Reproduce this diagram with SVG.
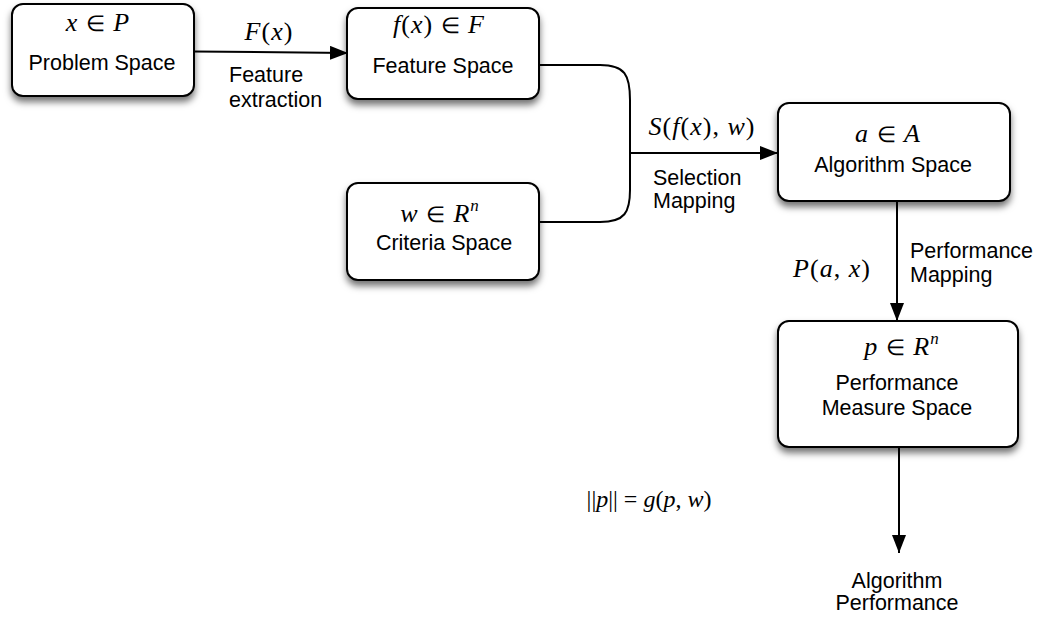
<svg xmlns="http://www.w3.org/2000/svg" width="1041" height="619" viewBox="0 0 1041 619">
<style>
.box{fill:#fff;stroke:#000;stroke-width:2;filter:url(#sh)}
.lbl{font-family:"Liberation Sans",Arial,sans-serif;font-size:21.5px;fill:#000}
.c{text-anchor:middle}
.m{font-family:"Liberation Serif","Times New Roman",serif;font-size:26px;fill:#000;text-anchor:middle;letter-spacing:1px}
.i{font-style:italic}
.s{font-size:22px}
.sup{font-size:17px;font-style:italic}
.conn{fill:none;stroke:#000;stroke-width:2}
</style>
<defs>
<filter id="sh" x="-20%" y="-20%" width="140%" height="150%">
<feDropShadow dx="0" dy="5" stdDeviation="3.5" flood-color="#000" flood-opacity="0.55"/>
</filter>
<marker id="ah" viewBox="0 0 18 14" refX="18" refY="7" markerWidth="18" markerHeight="14" markerUnits="userSpaceOnUse" orient="auto">
<path d="M0,0 L18,7 L0,14 Z" fill="#000"/>
</marker>
</defs>

<g id="connectors">
<path class="conn" d="M194,51.5 L348,53" marker-end="url(#ah)"/>
<path class="conn" d="M539,65 L600,65 C625,65 630,75 630,100 L630,190 C630,212 625,222 600,222 L539,222"/>
<path class="conn" d="M630,153 L778,153" marker-end="url(#ah)"/>
<path class="conn" d="M897,201 L897,321" marker-end="url(#ah)"/>
<path class="conn" d="M899,447 L899,553" marker-end="url(#ah)"/>
</g>

<g id="problem-space">
<rect class="box" x="12" y="4" width="182" height="92" rx="11"/>
<text class="m" x="98" y="31"><tspan class="i">x</tspan> <tspan class="s">∈</tspan> <tspan class="i">P</tspan></text>
<text class="lbl c" x="102" y="70">Problem Space</text>
</g>

<g id="feature-label">
<text class="m" x="269" y="40"><tspan class="i">F</tspan>(<tspan class="i">x</tspan>)</text>
<text class="lbl" x="229" y="82">Feature</text>
<text class="lbl" x="229" y="107">extraction</text>
</g>

<g id="feature-space">
<rect class="box" x="347" y="8" width="192" height="91" rx="11"/>
<text class="m" x="439" y="33"><tspan class="i">f</tspan>(<tspan class="i">x</tspan>) <tspan class="s">∈</tspan> <tspan class="i">F</tspan></text>
<text class="lbl c" x="443" y="73">Feature Space</text>
</g>

<g id="criteria-space">
<rect class="box" x="347" y="183" width="192" height="97" rx="11"/>
<text class="m" x="440" y="222"><tspan class="i">w</tspan> <tspan class="s">∈</tspan> <tspan class="i">R</tspan><tspan class="sup" dy="-11">n</tspan></text>
<text class="lbl c" x="444" y="250">Criteria Space</text>
</g>

<g id="selection-label">
<text class="m" x="702" y="135"><tspan class="i">S</tspan>(<tspan class="i">f</tspan>(<tspan class="i">x</tspan>), <tspan class="i">w</tspan>)</text>
<text class="lbl" x="653" y="185">Selection</text>
<text class="lbl" x="653" y="208">Mapping</text>
</g>

<g id="algorithm-space">
<rect class="box" x="778" y="103" width="232" height="98" rx="11"/>
<text class="m" x="888" y="142"><tspan class="i">a</tspan> <tspan class="s">∈</tspan> <tspan class="i">A</tspan></text>
<text class="lbl c" x="893" y="172">Algorithm Space</text>
</g>

<g id="performance-label">
<text class="m" x="832" y="277"><tspan class="i">P</tspan>(<tspan class="i">a</tspan>, <tspan class="i">x</tspan>)</text>
<text class="lbl" x="910" y="258">Performance</text>
<text class="lbl" x="910" y="282">Mapping</text>
</g>

<g id="performance-measure-space">
<rect class="box" x="778" y="321" width="240" height="126" rx="11"/>
<text class="m" x="902" y="355"><tspan class="i">p</tspan> <tspan class="s">∈</tspan> <tspan class="i">R</tspan><tspan class="sup" dy="-11">n</tspan></text>
<text class="lbl c" x="897" y="390">Performance</text>
<text class="lbl c" x="897" y="415">Measure Space</text>
</g>

<g id="norm-label">
<text class="m" x="649" y="507" style="letter-spacing:0;font-size:24px">||<tspan class="i">p</tspan>|| = <tspan class="i">g</tspan>(<tspan class="i">p</tspan>, <tspan class="i">w</tspan>)</text>
</g>

<g id="algorithm-performance">
<text class="lbl c" x="897" y="588">Algorithm</text>
<text class="lbl c" x="897" y="610">Performance</text>
</g>
</svg>
